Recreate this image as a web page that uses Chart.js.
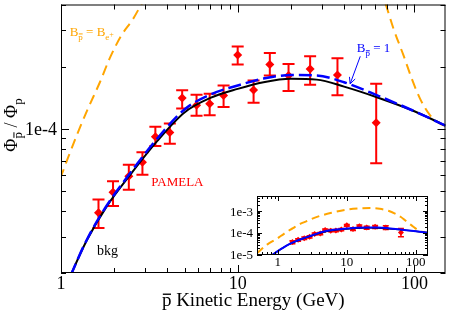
<!DOCTYPE html>
<html>
<head>
<meta charset="utf-8">
<script src="https://cdn.jsdelivr.net/npm/chart.js@4"></script>
<style>
  body { margin: 0; background: #fff; }
  #wrap { position: relative; width: 450px; height: 313px; }
  #main { position: absolute; left: 0; top: 0; }
  #inset { position: absolute; left: 220px; top: 192px; }
</style>
</head>
<body>
<div id="wrap">
  <canvas id="main" width="450" height="313"></canvas>
  <canvas id="inset" width="215" height="80"></canvas>
</div>
<script>
// PAMELA antiproton / proton flux ratio
const pamelaE = [1.63, 1.97, 2.42, 2.89, 3.42, 4.13, 4.85, 5.85, 6.94, 8.32, 10.0, 12.3, 15.2, 19.4, 25.7, 36.7, 60.8];
const pamelaRatio = [3.92e-5, 4.92e-5, 5.88e-5, 6.89e-5, 9.15e-5, 9.60e-5, 1.41e-4, 1.30e-4, 1.32e-4, 1.45e-4, 2.28e-4, 1.54e-4, 2.05e-4, 1.81e-4, 1.95e-4, 1.82e-4, 1.07e-4];
const pamelaHigh = [4.54e-5, 5.56e-5, 6.69e-5, 7.69e-5, 1.022e-4, 1.06e-4, 1.535e-4, 1.46e-4, 1.478e-4, 1.622e-4, 2.506e-4, 1.714e-4, 2.327e-4, 2.06e-4, 2.244e-4, 2.195e-4, 1.651e-4];
const pamelaLow = [3.30e-5, 4.22e-5, 5.07e-5, 5.99e-5, 8.26e-5, 8.47e-5, 1.255e-4, 1.155e-4, 1.164e-4, 1.276e-4, 2.047e-4, 1.338e-4, 1.813e-4, 1.523e-4, 1.633e-4, 1.452e-4, 6.81e-5];

// model curves
const curveE = [0.8, 1, 1.15, 1.4, 1.8, 2.5, 3.5, 5, 7, 10, 14, 20, 28, 40, 63, 100, 150];
const bkgRatio = [9.2e-6, 1.50e-5, 2.0e-5, 2.88e-5, 4.16e-5, 6.08e-5, 8.71e-5, 1.20e-4, 1.41e-4, 1.56e-4, 1.68e-4, 1.745e-4, 1.73e-4, 1.60e-4, 1.41e-4, 1.216e-4, 1.035e-4];
const bOneRatio = [9.2e-6, 1.50e-5, 2.0e-5, 2.9e-5, 4.2e-5, 6.2e-5, 8.95e-5, 1.24e-4, 1.465e-4, 1.62e-4, 1.75e-4, 1.82e-4, 1.81e-4, 1.68e-4, 1.44e-4, 1.216e-4, 1.035e-4];
const orangeE = [0.5, 0.7, 1, 1.08, 1.23, 1.42, 1.66, 1.88, 2.19, 2.55, 2.89, 4, 6, 10, 15, 22, 30, 40, 50, 60, 68.4, 76.3, 86.9, 96.7, 107.6, 122.5, 139.4, 150];
const orangeRatio = [1.2e-5, 3.0e-5, 5.88e-5, 7.0e-5, 9.33e-5, 1.25e-4, 1.68e-4, 2.18e-4, 2.82e-4, 3.39e-4, 4.08e-4, 6.0e-4, 8.5e-4, 1.2e-3, 1.35e-3, 1.4e-3, 1.3e-3, 1.05e-3, 7.8e-4, 5.6e-4, 4.08e-4, 3.04e-4, 2.26e-4, 1.745e-4, 1.40e-4, 1.164e-4, 1.06e-4, 1.03e-4];

const serif = 'Liberation Serif';

function pts(xs, ys) {
    return xs.map((x, i) => ({ x: x, y: ys[i] }));
}

// 1..9 x 10^d positions inside [min, max]
function logTicks(min, max) {
    const out = [];
    for (let d = Math.floor(Math.log10(min)); d <= Math.ceil(Math.log10(max)); d++) {
        for (let m = 1; m <= 9; m++) {
            const v = m * Math.pow(10, d);
            if (v >= min * 0.9999 && v <= max * 1.0001) out.push({ v: v, major: m === 1, d: d });
        }
    }
    return out;
}

// box around the plot, inward ticks on all four sides, decade labels
const axesDecor = {
    id: 'axesDecor',
    afterDraw(chart, args, opts) {
        const { ctx, chartArea: a, scales } = chart;
        const sx = scales.x, sy = scales.y;
        ctx.save();
        ctx.strokeStyle = '#000';
        ctx.lineWidth = 1;
        ctx.strokeRect(a.left + 0.5, a.top + 0.5, a.right - a.left - 1, a.bottom - a.top - 1);
        ctx.beginPath();
        logTicks(sx.min, sx.max).forEach(t => {
            const px = Math.round(sx.getPixelForValue(t.v)) + 0.5;
            const len = t.major ? opts.major : opts.minor;
            ctx.moveTo(px, a.bottom); ctx.lineTo(px, a.bottom - len);
            ctx.moveTo(px, a.top); ctx.lineTo(px, a.top + len);
        });
        logTicks(sy.min, sy.max).forEach(t => {
            const py = Math.round(sy.getPixelForValue(t.v)) + 0.5;
            const len = t.major ? opts.major : opts.minor;
            ctx.moveTo(a.left, py); ctx.lineTo(a.left + len, py);
            ctx.moveTo(a.right, py); ctx.lineTo(a.right - len, py);
        });
        ctx.stroke();

        ctx.fillStyle = '#000';
        ctx.font = opts.font + 'px "' + serif + '"';
        ctx.textBaseline = 'alphabetic';
        ctx.textAlign = 'center';
        logTicks(sx.min, sx.max).filter(t => t.major).forEach(t => {
            ctx.fillText(String(Math.round(t.v)), sx.getPixelForValue(t.v), a.bottom + opts.xBase);
        });
        ctx.textAlign = 'right';
        logTicks(sy.min, sy.max).filter(t => t.major).forEach(t => {
            ctx.fillText('1e' + t.d, a.left - opts.yGap, sy.getPixelForValue(t.v) + opts.font * 0.33);
        });
        ctx.restore();
    }
};

// vertical error bars for the PAMELA points
const errorBars = {
    id: 'errorBars',
    beforeDatasetsDraw(chart, args, opts) {
        const { ctx, scales } = chart;
        ctx.save();
        ctx.strokeStyle = '#ff0000';
        ctx.lineWidth = opts.width;
        ctx.beginPath();
        pamelaE.forEach((e, i) => {
            const px = scales.x.getPixelForValue(e);
            const top = scales.y.getPixelForValue(pamelaHigh[i]);
            const bot = scales.y.getPixelForValue(pamelaLow[i]);
            ctx.moveTo(px, top); ctx.lineTo(px, bot);
            ctx.moveTo(px - opts.cap, top); ctx.lineTo(px + opts.cap, top);
            ctx.moveTo(px - opts.cap, bot); ctx.lineTo(px + opts.cap, bot);
        });
        ctx.stroke();
        ctx.restore();
    }
};

// text made of pieces, some of them subscripts with an optional bar on top
function richWidth(ctx, parts) {
    let w = 0;
    parts.forEach(p => { ctx.font = p.s + 'px "' + serif + '"'; w += ctx.measureText(p.t).width; });
    return w;
}

function drawRich(ctx, x, y, parts, color) {
    ctx.fillStyle = color;
    ctx.strokeStyle = color;
    ctx.textBaseline = 'alphabetic';
    ctx.textAlign = 'left';
    parts.forEach(p => {
        ctx.font = p.s + 'px "' + serif + '"';
        const w = ctx.measureText(p.t).width;
        const by = y + (p.dy || 0);
        ctx.fillText(p.t, x, by);
        if (p.bar) {
            ctx.lineWidth = Math.max(1, p.s / 14);
            ctx.beginPath();
            ctx.moveTo(x + p.s * 0.05, by - p.s * 0.62);
            ctx.lineTo(x + w - p.s * 0.02, by - p.s * 0.62);
            ctx.stroke();
        }
        x += w;
    });
}

const textLabels = {
    id: 'textLabels',
    afterDraw(chart) {
        const { ctx, scales } = chart;
        const X = v => scales.x.getPixelForValue(v);
        const Y = v => scales.y.getPixelForValue(v);
        ctx.save();

        drawRich(ctx, X(1.12), Y(2.83e-4), [
            { t: 'B', s: 13 }, { t: 'p', s: 9, dy: 4, bar: true }, { t: ' = B', s: 13 },
            { t: 'e', s: 9, dy: 4 }, { t: '+', s: 8, dy: 1 }
        ], '#ffa500');

        drawRich(ctx, X(47.2), Y(2.345e-4), [
            { t: 'B', s: 13 }, { t: 'p', s: 9, dy: 4, bar: true }, { t: ' = 1', s: 13 }
        ], '#0000ff');

        // arrow from the B=1 label to its curve
        const tx = X(49.4), ty = Y(2.244e-4), hx = X(43.3), hy = Y(1.651e-4);
        const ang = Math.atan2(hy - ty, hx - tx);
        ctx.strokeStyle = '#0000ff';
        ctx.lineWidth = 1;
        ctx.beginPath();
        ctx.moveTo(tx, ty); ctx.lineTo(hx, hy);
        ctx.moveTo(hx - 7 * Math.cos(ang - 0.45), hy - 7 * Math.sin(ang - 0.45));
        ctx.lineTo(hx, hy);
        ctx.lineTo(hx - 7 * Math.cos(ang + 0.45), hy - 7 * Math.sin(ang + 0.45));
        ctx.stroke();

        drawRich(ctx, X(3.24), Y(5.26e-5), [{ t: 'PAMELA', s: 13 }], '#ff0000');
        drawRich(ctx, X(1.6), Y(2.45e-5), [{ t: 'bkg', s: 14 }], '#000');

        // axis titles
        const a = chart.chartArea;
        const xt = [{ t: 'p', s: 19, bar: true }, { t: ' Kinetic Energy (GeV)', s: 19 }];
        const xw = richWidth(ctx, xt);
        drawRich(ctx, (a.left + a.right) / 2 - xw / 2, 306, xt, '#000');

        const yt = [{ t: 'Φ', s: 18 }, { t: 'p', s: 13, dy: 5, bar: true }, { t: ' / Φ', s: 18 }, { t: 'p', s: 13, dy: 5 }];
        const yw = richWidth(ctx, yt);
        ctx.translate(17, 125);
        ctx.rotate(-Math.PI / 2);
        drawRich(ctx, -yw / 2, 0, yt, '#000');
        ctx.restore();
    }
};

function axis(min, max, fit) {
    return {
        type: 'logarithmic',
        min: min,
        max: max,
        grid: { display: false, drawTicks: false },
        border: { display: false },
        ticks: { display: false },
        afterFit: fit
    };
}

new Chart(document.getElementById('main'), {
    type: 'line',
    data: {
        datasets: [
            { data: pts(curveE, bOneRatio), borderColor: '#0000ff', borderWidth: 2.5, borderDash: [13, 5], pointRadius: 0, cubicInterpolationMode: 'monotone' },
            { data: pts(curveE, bkgRatio), borderColor: '#000000', borderWidth: 2, pointRadius: 0, cubicInterpolationMode: 'monotone' },
            { data: pts(orangeE, orangeRatio), borderColor: '#ffa500', borderWidth: 2, borderDash: [10, 6], pointRadius: 0, cubicInterpolationMode: 'monotone' },
            { data: pts(pamelaE, pamelaRatio), showLine: false, pointStyle: 'rectRot', pointRadius: 4.5, backgroundColor: '#ff0000', borderColor: '#ff0000', borderWidth: 0 }
        ]
    },
    options: {
        responsive: false,
        animation: false,
        devicePixelRatio: 1,
        layout: { padding: { top: 2, right: 3, left: 0, bottom: 0 } },
        plugins: {
            legend: { display: false },
            tooltip: { enabled: false },
            axesDecor: { major: 8, minor: 5, font: 18, xBase: 16, yGap: 4 },
            errorBars: { cap: 6, width: 2 }
        },
        scales: {
            x: axis(1, 150, s => { s.height = 40; }),
            y: axis(2e-5, 4e-4, s => { s.width = 61; })
        }
    },
    plugins: [axesDecor, errorBars, textLabels]
});

// inset: same curves and data over a wider range
new Chart(document.getElementById('inset'), {
    type: 'line',
    data: {
        datasets: [
            { data: pts(curveE, bOneRatio), borderColor: '#0000ff', borderWidth: 2, pointRadius: 0, cubicInterpolationMode: 'monotone' },
            { data: pts(curveE, bkgRatio), borderColor: '#000000', borderWidth: 1.5, pointRadius: 0, cubicInterpolationMode: 'monotone' },
            { data: pts(orangeE, orangeRatio), borderColor: '#ffa500', borderWidth: 2, borderDash: [8, 5], pointRadius: 0, cubicInterpolationMode: 'monotone' },
            { data: pts(pamelaE, pamelaRatio), showLine: false, pointStyle: 'rectRot', pointRadius: 3, backgroundColor: '#ff0000', borderColor: '#ff0000', borderWidth: 0 }
        ]
    },
    options: {
        responsive: false,
        animation: false,
        devicePixelRatio: 1,
        layout: { padding: { top: 4, right: 7, left: 0, bottom: 0 } },
        plugins: {
            legend: { display: false },
            tooltip: { enabled: false },
            axesDecor: { major: 5, minor: 3, font: 13, xBase: 11, yGap: 4 },
            errorBars: { cap: 3, width: 1.5 }
        },
        scales: {
            x: axis(0.5, 150, s => { s.height = 17; }),
            y: axis(1e-5, 5e-3, s => { s.width = 37; })
        }
    },
    plugins: [axesDecor, errorBars]
});
</script>
</body>
</html>
